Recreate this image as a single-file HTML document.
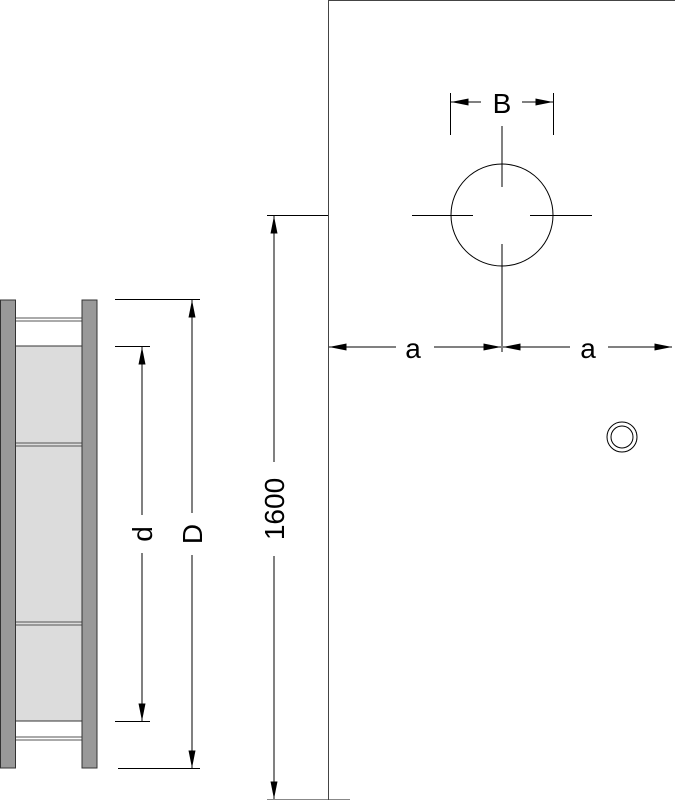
<!DOCTYPE html>
<html><head><style>html,body{margin:0;padding:0;background:#fff}svg{display:block}</style></head><body>
<svg width="675" height="800" viewBox="0 0 675 800" xmlns="http://www.w3.org/2000/svg" font-family="Liberation Sans, sans-serif">
<defs>
<marker id="al" viewBox="0 0 20 8" refX="20" refY="4" markerWidth="20" markerHeight="7" markerUnits="userSpaceOnUse" orient="auto"><path d="M0,0 L20,4 L0,8 z" fill="#000"/></marker>
</defs>
<rect x="15" y="346" width="67" height="375" fill="#dcdcdc" stroke="#333" stroke-width="1"/>
<g stroke="#555" stroke-width="1">
<line x1="15" y1="318" x2="82" y2="318"/><line x1="15" y1="321" x2="82" y2="321"/>
<line x1="15" y1="443" x2="82" y2="443"/><line x1="15" y1="446" x2="82" y2="446"/>
<line x1="15" y1="622" x2="82" y2="622"/><line x1="15" y1="625" x2="82" y2="625"/>
<line x1="15" y1="737" x2="82" y2="737"/><line x1="15" y1="740" x2="82" y2="740"/>
</g>
<rect x="0.5" y="300" width="15" height="468" fill="#999" stroke="#333"/>
<rect x="82" y="300" width="15" height="468" fill="#999" stroke="#333"/>
<g stroke="#000" stroke-width="1" fill="none">
<line x1="115" y1="299.5" x2="200" y2="299.5"/>
<line x1="118" y1="768.5" x2="200" y2="768.5"/>
<line x1="115" y1="346.5" x2="150" y2="346.5"/>
<line x1="115" y1="721.5" x2="150" y2="721.5"/>
<line x1="192" y1="513" x2="192" y2="300" marker-end="url(#al)"/>
<line x1="192" y1="555" x2="192" y2="768" marker-end="url(#al)"/>
<line x1="142" y1="515" x2="142" y2="347" marker-end="url(#al)"/>
<line x1="142" y1="553" x2="142" y2="721" marker-end="url(#al)"/>
<line x1="274" y1="462" x2="274" y2="216" marker-end="url(#al)"/>
<line x1="274" y1="556" x2="274" y2="799" marker-end="url(#al)"/>
<line x1="267" y1="215.5" x2="328" y2="215.5"/>
<line x1="267" y1="799.5" x2="350" y2="799.5" stroke="#888"/>
<line x1="328.5" y1="0" x2="328.5" y2="800" stroke="#444"/>
<line x1="328" y1="0.5" x2="675" y2="0.5" stroke="#444"/>
<circle cx="502" cy="215" r="51"/>
<line x1="412" y1="215.5" x2="473" y2="215.5"/>
<line x1="530" y1="215.5" x2="592" y2="215.5"/>
<line x1="502" y1="126" x2="502" y2="187"/>
<line x1="502" y1="244" x2="502" y2="352"/>
<line x1="450.5" y1="93" x2="450.5" y2="135"/>
<line x1="553.5" y1="93" x2="553.5" y2="135"/>
<line x1="481" y1="102" x2="451" y2="102" marker-end="url(#al)"/>
<line x1="522" y1="102" x2="553" y2="102" marker-end="url(#al)"/>
<line x1="396" y1="347" x2="329" y2="347" marker-end="url(#al)"/>
<line x1="434" y1="347" x2="501" y2="347" marker-end="url(#al)"/>
<line x1="570" y1="347" x2="503" y2="347" marker-end="url(#al)"/>
<line x1="608" y1="347" x2="672" y2="347" marker-end="url(#al)"/>
<circle cx="622" cy="437" r="15"/>
<circle cx="622" cy="437" r="11"/>
</g>
<g font-size="28" fill="#000" text-anchor="middle">
<text x="502" y="113">B</text>
<text x="413" y="358">a</text>
<text x="588" y="358">a</text>
<text transform="translate(152,534) rotate(-90)">d</text>
<text transform="translate(202,534) rotate(-90)">D</text>
<text transform="translate(284,509) rotate(-90)">1600</text>
</g>
</svg>
</body></html>
